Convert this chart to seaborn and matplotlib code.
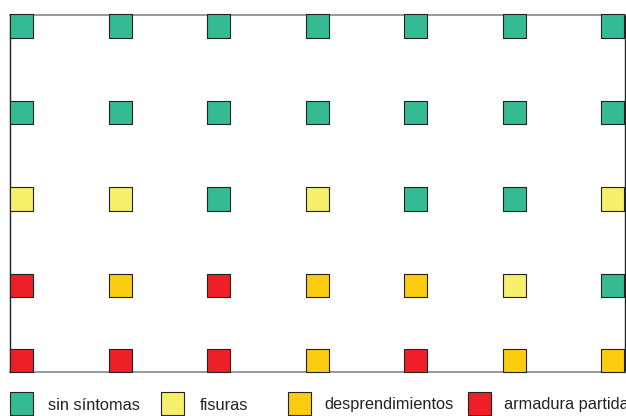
import pandas as pd
import seaborn as sns
import matplotlib.pyplot as plt
from matplotlib.patches import Rectangle

# categorías y colores
categorias = ['sin síntomas', 'fisuras', 'desprendimientos', 'armadura partida']
colores = ['#35BB93', '#F6EF6B', '#FCCC10', '#EE2027']

# posiciones de columnas y filas
columnas = [0, 1, 2, 3, 4, 5, 6]
filas = [0, 1, 2, 3, 3.87]

# estado de cada celda (fila de arriba a abajo)
fila1 = ['sin síntomas'] * 7
fila2 = ['sin síntomas'] * 7
fila3 = ['fisuras', 'fisuras', 'sin síntomas', 'fisuras', 'sin síntomas', 'sin síntomas', 'fisuras']
fila4 = ['armadura partida', 'desprendimientos', 'armadura partida', 'desprendimientos',
         'desprendimientos', 'fisuras', 'sin síntomas']
fila5 = ['armadura partida', 'armadura partida', 'armadura partida', 'desprendimientos',
         'armadura partida', 'desprendimientos', 'desprendimientos']
estados = [fila1, fila2, fila3, fila4, fila5]

rows = []
for y, fila in zip(filas, estados):
    for x, e in zip(columnas, fila):
        rows.append({'x': x, 'y': y, 'estado': e})
df = pd.DataFrame(rows)

sns.set_style('white')
plt.rcParams['font.family'] = ['Liberation Sans', 'DejaVu Sans']

fig = plt.figure(figsize=(6.26, 4.16), dpi=100)
ax = fig.add_axes([10 / 626, 44 / 416, 614.5 / 626, 357 / 416])

sns.scatterplot(data=df, x='x', y='y', hue='estado', hue_order=categorias,
                palette=colores, marker='s', s=275, edgecolor='#222222',
                linewidth=0.8, legend=False, ax=ax, zorder=3, clip_on=False)

ax.set_xlim(-0.12, 6.12)
ax.set_ylim(4.0, -0.127)
ax.set_xticks([])
ax.set_yticks([])
ax.set_xlabel('')
ax.set_ylabel('')
for s in ['top', 'bottom']:
    ax.spines[s].set_color('#888888')
    ax.spines[s].set_linewidth(1.2)
for s in ['left', 'right']:
    ax.spines[s].set_color('#222222')
    ax.spines[s].set_linewidth(1.0)

# leyenda manual debajo
cuadro_x = [10, 161, 288, 468]
texto_x = [48, 200, 324, 504]
for c, col, qx, tx in zip(categorias, colores, cuadro_x, texto_x):
    fig.add_artist(Rectangle((qx / 626, 1 - 415 / 416), 23 / 626, 23 / 416,
                             facecolor=col, edgecolor='#222222', linewidth=0.8,
                             transform=fig.transFigure))
    fig.text(tx / 626, 1 - 405 / 416, c, fontsize=11.8, va='center', ha='left',
             color='#222222')

fig.savefig('out.png', dpi=100)
